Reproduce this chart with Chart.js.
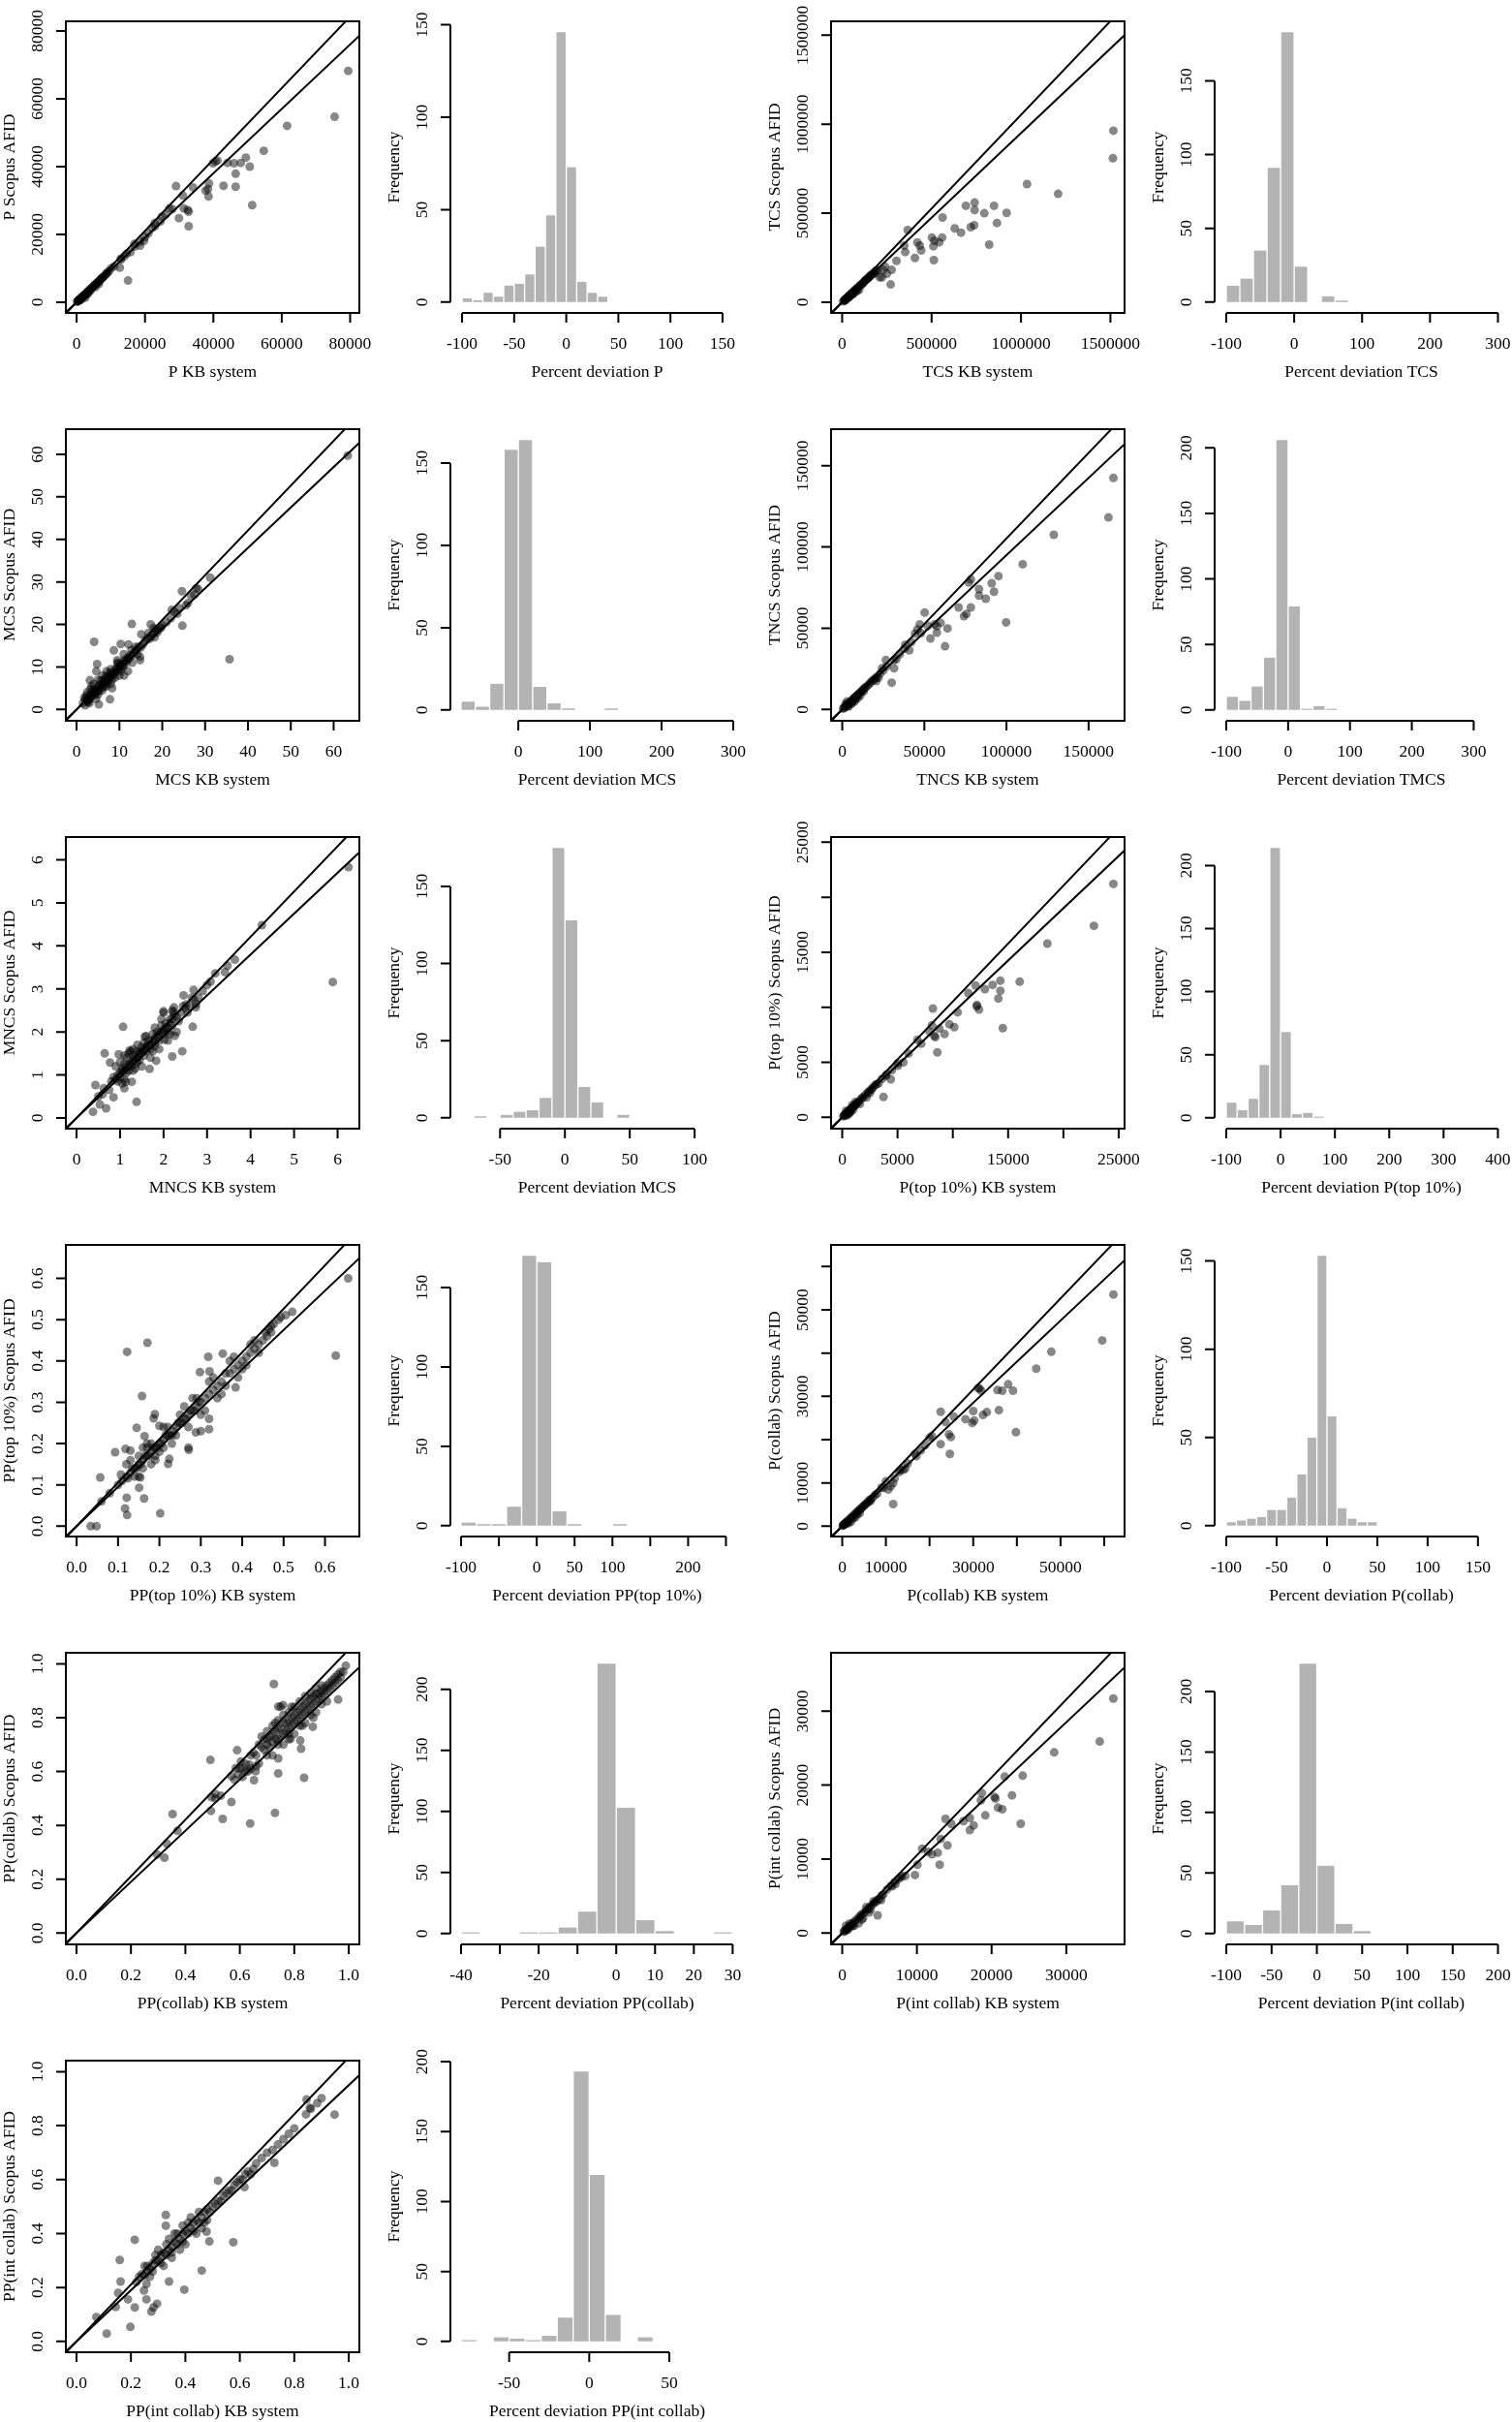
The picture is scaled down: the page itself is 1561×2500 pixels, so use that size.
<!DOCTYPE html>
<html>
<head>
<meta charset="utf-8">
<script src="https://cdn.jsdelivr.net/npm/chart.js@4.4.0/dist/chart.umd.min.js"></script>
<style>
body { margin: 0; background: #fff; width: 1561px; height: 2500px; overflow: hidden; position: relative; }
canvas { position: absolute; }
</style>
</head>
<body>
<script>
// ---- scatter data: [KB system, Scopus AFID] ----
var pPoints = [[79430,68240],[75460,54690],[61560,52010],[54750,44670],[49500,42660],[48000,41100],[46000,41000],[44100,41100],[50640,39990],[46520,37890],[46520,34070],[42980,34360],[51350,28630],[39860,41000],[41200,41800],[40600,41500],[38720,35030],[38440,33400],[37730,32930],[38580,31210],[34040,33880],[29080,34260],[31060,31500],[31350,27680],[32480,27200],[32770,26720],[32770,22430],[29930,24810],[27090,27680],[24960,25290],[22840,23380],[22130,21950],[19720,18130],[18580,16700],[16880,17180],[15740,14790],[14610,14320],[12910,12880],[12620,10210],[15040,6390],[10070,10020],
  [28000,27500],[26000,25800],[24500,23800],[23000,22500],[21000,20300],[20000,19200],[18500,17800],[17000,16400],[14000,13600],[13000,12600],[11000,10600],[9000,8700],[8000,7600],[7500,7200],[7000,6700],[6500,6100],[6000,5800],[5500,5300],[5000,4700],[4500,4300],[4000,3900],[3500,3300],[3000,2900],[2600,2400],[2200,2100],[1800,1700],[1500,1400],[1200,1100],[900,850],[700,650],[500,480],[300,280],[150,140],[2500,1300],[1200,700],[3300,2600],[5500,4500],[6500,5400],[8500,8200],
  [400,380],[600,560],[800,780],[1000,950],[1300,1250],[1600,1500],[1900,1800],[2300,2200],[2800,2600],[3200,3100],[3700,3500],[4200,4000],[4700,4500],[5200,5000],[5800,5500],[6300,6000],[6800,6500],[7300,7000],[7800,7500],[8800,8500],[9500,9200],[1000,700],[2000,1500],[3000,2300],[4000,3300]];

var tcsPoints = [[1516600,963500],[1513900,809000],[1033700,663600],[1207300,609000],[919700,501800],[849200,541800],[794900,500000],[865400,445400],[822000,323600],[740700,560000],[740700,518000],[691800,541800],[738000,432700],[719000,421800],[664700,390900],[629400,414500],[561600,476300],[558900,363600],[542600,336300],[515500,345400],[501900,363600],[510000,314500],[512800,236300],[420500,336300],[434100,318200],[442200,290900],[366300,405400],[407000,249100],[347300,318200],[352700,281800],[303900,232700],[271300,100000],[276700,181800],[230600,181800],[222500,140000],[240000,200000],[200000,180000],[185000,170000],[180000,160000],[160000,150000],[150000,140000],[140000,130000],[130000,125000],[120000,110000],[110000,100000],[100000,95000],[95000,70000],[90000,85000],[80000,75000],[75000,60000],[70000,65000],[65000,50000],[60000,55000],[55000,45000],[50000,47000],[45000,35000],[40000,38000],[35000,25000],[30000,28000],[25000,22000],[20000,19000],[15000,10000],[10000,9500],[5000,4800],[250000,160000],[210000,140000],
  [15000,14000],[25000,24000],[35000,33000],[45000,43000],[55000,52000],[65000,62000],[75000,71000],[85000,80000],[105000,98000],[115000,108000],[125000,118000],[135000,127000],[145000,136000],[155000,147000],[165000,155000],[175000,165000],[190000,178000],[20000,12000],[40000,30000],[60000,45000],[85000,65000]];

var mcsPoints = [[63.3,59.7],[35.7,11.8],[31.2,31.0],[28.4,28.3],[27.9,28.5],[26.7,26.8],[24.6,27.8],[24.7,19.7],[22.8,23.0],[22.2,23.4],[19.7,19.2],[18.8,18.1],[17.3,20.0],[18.0,19.2],[15.1,17.7],[12.9,20.1],[12.1,15.3],[10.3,15.4],[8.7,13.9],[4.1,15.9],[4.8,10.7],[4.6,9.0],[3.1,6.9],[8.3,5.0],[7.8,2.4],[5.2,1.2],[11.1,8.0],[10.9,10.1],[14.8,12.4],[14.8,11.6],[13.7,14.7],[9.5,11.6],[12.3,12.0],
  [1.5,1.5],[2.0,2.3],[2.5,2.0],[3.0,3.2],[3.5,3.0],[4.0,4.2],[4.5,4.0],[5.0,5.3],[5.5,5.0],[6.0,6.2],[6.5,5.8],[7.0,7.3],[7.5,7.0],[8.0,8.1],[8.5,8.0],[9.0,9.3],[9.5,9.0],[10.0,10.2],[10.5,9.8],[11.0,11.3],[11.5,11.0],[12.0,12.2],[13.0,12.7],[14.0,14.1],[15.0,14.6],[16.0,16.2],[17.0,16.6],[18.0,18.0],[19.0,18.6],[20.0,19.8],[21.0,20.5],[3.0,1.5],[2.5,4.0],[3.5,5.5],[4.5,2.5],[5.0,3.5],[6.0,4.5],[7.0,5.5],[6.0,8.0],[7.0,9.0],[8.0,6.0],[9.0,7.5],[10.0,8.0],[5.0,7.0],[4.0,6.0],[11.0,13.0],[13.0,11.0],[12.0,9.0],[2.0,1.0],[3.0,2.5],[6.5,7.0],[8.0,9.5],[9.5,11.0],[23.5,22.5],[25.5,24.5],[27.5,27.0],
  [2.2,2.6],[2.8,2.2],[3.3,3.6],[3.8,3.4],[4.2,4.8],[4.8,4.4],[5.3,5.8],[5.8,5.4],[6.3,6.6],[6.8,6.4],[7.3,7.8],[7.8,7.4],[8.3,8.6],[8.8,8.4],[9.3,9.7],[9.8,9.4],[10.3,10.6],[10.8,10.4],[11.3,11.7],[11.8,11.5],[12.5,12.8],[13.5,13.4],[14.5,14.8],[15.5,15.3],[16.5,16.8],[17.5,17.2],[18.5,18.8],[19.5,19.3],[3.7,4.5],[4.3,3.5],[5.7,6.8],[6.3,5.2],[7.7,8.7],[8.3,7.0],[9.7,10.8],[10.3,9.0],[2.3,3.3],[2.7,1.8],[1.8,2.8],[3.2,4.8],[6.8,7.8],[5.2,4.2],[7.2,6.2],[12.8,14.0],[14.2,13.0],[16.8,18.0],[18.2,17.0],[22.0,21.5],[24.0,23.8],[26.0,25.0]];

var tncsPoints = [[165100,142500],[162100,118200],[128800,107500],[109900,89400],[99800,53600],[95100,82100],[91000,77700],[92400,72500],[87400,68200],[83300,74100],[83300,70100],[78300,80100],[77100,78100],[78300,62800],[75600,58800],[74100,57400],[70900,62800],[64100,49900],[62600,38900],[57600,51300],[59900,53300],[56100,52300],[57600,47300],[53700,43700],[50200,59600],[47200,52300],[45800,49300],[44300,46700],[40800,36400],[38400,39900],[30100,16500],[31600,25400],[31600,30400],[26600,30400],[24200,25400],[22100,19500],[20700,17500],
  [52000,51500],[48000,47000],[42000,41500],[38000,37500],[35000,34000],[33000,31000],[27000,26500],[25000,24000],[23000,22000],[20000,19000],[18000,17500],[16000,15200],[14000,13500],[13000,11000],[12000,11500],[11000,8500],[10000,9600],[9500,7000],[9000,8400],[8000,7600],[7500,5000],[7000,6800],[6000,5600],[5500,3500],[5000,4800],[4000,3800],[4000,2000],[3000,2900],[3000,5000],[2000,1900],[2000,3500],[1000,950],[500,480],
  [1500,1400],[2500,2400],[3500,3300],[4500,4300],[5500,5200],[6500,6200],[7500,7200],[8500,8100],[9500,9100],[10500,10000],[11500,11000],[12500,12000],[13500,13000],[15000,14300],[17000,16300],[19000,18200],[21000,20000],[3500,2000],[6000,4000],[8000,6000]];

var mncsPoints = [[6.25,5.83],[5.89,3.16],[4.26,4.48],[3.64,3.68],[3.41,3.39],[3.47,3.54],[3.19,3.36],[3.0,3.09],[3.08,3.17],[2.69,2.98],[2.74,2.57],[2.67,2.12],[2.46,2.85],[2.52,2.64],[2.24,2.57],[2.22,2.47],[2.0,2.48],[2.26,1.91],[2.20,1.43],[2.43,1.55],[1.83,1.33],[1.68,1.14],[1.07,2.12],[1.38,0.375],[1.27,0.84],[1.10,0.69],[1.13,0.84],[0.647,1.50],[0.77,1.29],[0.435,0.766],[0.625,0.69],[0.535,0.315],[0.68,0.225],[0.38,0.143],[0.85,0.48],[0.97,1.48],[1.57,1.89],[2.02,1.82],[1.80,1.67],[1.46,1.52],
  [0.8,0.85],[0.9,0.9],[0.95,1.0],[1.0,1.05],[1.05,1.1],[1.1,1.1],[1.15,1.2],[1.2,1.25],[1.25,1.3],[1.3,1.35],[1.35,1.4],[1.4,1.4],[1.45,1.5],[1.5,1.55],[1.55,1.6],[1.6,1.65],[1.65,1.7],[1.7,1.7],[1.75,1.8],[1.8,1.85],[1.85,1.9],[1.9,1.95],[1.95,2.0],[2.0,2.05],[2.05,2.1],[2.1,2.1],[2.15,2.2],[2.2,2.3],[2.3,2.35],[2.4,2.45],[2.5,2.55],[2.6,2.6],[2.7,2.75],[2.8,2.8],[1.0,1.3],[1.1,0.9],[1.2,1.5],[1.3,1.1],[1.4,1.7],[1.5,1.2],[1.6,1.9],[1.7,1.4],[1.8,2.1],[1.9,1.6],[2.0,2.45],[2.1,1.8],[2.3,2.0],[2.2,2.5],[1.25,1.55],[0.9,1.2],[0.75,0.65],[1.05,0.8],[0.6,0.55],[0.5,0.5],
  [0.85,0.95],[0.95,0.85],[1.0,0.95],[1.05,1.15],[1.1,1.25],[1.15,1.05],[1.2,1.1],[1.25,1.2],[1.3,1.45],[1.35,1.25],[1.4,1.55],[1.45,1.35],[1.5,1.65],[1.55,1.45],[1.6,1.55],[1.65,1.8],[1.7,1.6],[1.75,1.95],[1.8,1.75],[1.85,2.0],[1.9,1.8],[1.95,2.15],[2.0,1.95],[2.05,2.2],[2.1,2.0],[2.15,2.3],[2.2,2.15],[2.25,2.4],[2.35,2.25],[2.45,2.6],[2.55,2.45],[2.65,2.8],[2.75,2.65],[2.9,2.95],[1.15,1.4],[1.35,1.15],[1.55,1.75],[1.75,1.55],[1.95,2.3],[2.15,1.95],[1.1,1.45],[1.22,1.57],[1.3,1.6],[1.4,1.3]];

var ptopPoints = [[24520,21210],[22760,17400],[18550,15790],[16050,12320],[14300,12410],[14300,11500],[14120,10800],[13600,12030],[12900,11650],[12060,11970],[11400,11300],[12190,10210],[12370,9800],[12150,10090],[10440,9540],[14520,8100],[10130,8190],[9250,7570],[9690,8450],[8200,9890],[8420,7280],[8330,7390],[8600,5900],[8770,8070],[8110,8360],[7890,7780],[7150,6690],[6800,7040],[5530,4990],[5040,4690],[4390,3460],[3730,1850],[3950,3760],
  [6000,5800],[5000,4900],[4500,4300],[4000,3900],[3600,3500],[3300,3100],[3000,2950],[2700,2600],[2500,2200],[2400,2350],[2200,1800],[2100,2050],[1800,1750],[1600,1200],[1500,1450],[1300,1250],[1200,1400],[1100,1050],[1000,700],[900,870],[900,1100],[800,550],[700,680],[600,300],[500,490],[400,150],[350,600],[300,290],[200,195],[100,95],
  [150,145],[250,245],[350,340],[450,440],[550,530],[650,630],[750,730],[850,820],[950,920],[1050,1000],[1150,1100],[1250,1200],[1400,1350],[1700,1650],[1900,1850],[2300,2250],[2600,2500],[2800,2750],[3100,3000],[500,300],[700,450]];

var pptopPoints = [[0.656,0.600],[0.626,0.413],[0.171,0.444],[0.122,0.422],[0.158,0.315],[0.189,0.271],[0.186,0.261],[0.200,0.243],[0.145,0.238],[0.164,0.218],[0.093,0.179],[0.118,0.187],[0.130,0.183],[0.057,0.118],[0.107,0.125],[0.124,0.116],[0.154,0.118],[0.151,0.093],[0.121,0.069],[0.163,0.067],[0.117,0.043],[0.122,0.027],[0.202,0.031],[0.034,0.0],[0.048,0.0],[0.353,0.418],[0.318,0.410],[0.321,0.375],[0.298,0.373],[0.384,0.336],[0.320,0.235],[0.288,0.227],[0.271,0.185],[0.224,0.163],[0.221,0.151],
  [0.521,0.519],[0.505,0.511],[0.493,0.506],[0.488,0.500],[0.476,0.489],[0.470,0.485],[0.464,0.477],[0.456,0.469],
  [0.44,0.44],[0.42,0.42],[0.40,0.40],[0.38,0.38],[0.36,0.37],[0.34,0.34],[0.32,0.32],[0.30,0.30],[0.29,0.29],[0.28,0.28],[0.27,0.27],[0.26,0.26],[0.25,0.25],[0.24,0.24],[0.23,0.22],[0.22,0.22],[0.21,0.21],[0.20,0.20],[0.19,0.19],[0.18,0.18],[0.17,0.17],[0.16,0.16],[0.15,0.15],[0.14,0.14],[0.13,0.13],[0.12,0.12],[0.11,0.11],[0.10,0.10],[0.08,0.08],[0.06,0.06],[0.35,0.32],[0.33,0.36],[0.31,0.28],[0.29,0.31],[0.27,0.24],[0.25,0.27],[0.23,0.20],[0.21,0.24],[0.19,0.16],[0.17,0.20],[0.15,0.12],[0.13,0.16],[0.37,0.40],[0.41,0.39],[0.43,0.45],[0.39,0.36],[0.26,0.29],[0.27,0.19],[0.32,0.26],[0.30,0.23],
  [0.45,0.45],[0.43,0.43],[0.41,0.41],[0.39,0.39],[0.37,0.37],[0.35,0.35],[0.33,0.33],[0.31,0.31],[0.295,0.30],[0.285,0.28],[0.275,0.28],[0.265,0.26],[0.255,0.25],[0.245,0.25],[0.235,0.23],[0.225,0.22],[0.215,0.22],[0.205,0.20],[0.195,0.19],[0.185,0.19],[0.175,0.17],[0.165,0.17],[0.155,0.15],[0.145,0.14],[0.135,0.14],[0.18,0.20],[0.17,0.19],[0.19,0.17],[0.20,0.18],[0.16,0.14],[0.15,0.17],[0.14,0.12],[0.12,0.15],[0.21,0.19],[0.22,0.24],[0.24,0.22],[0.28,0.31],[0.30,0.27],[0.32,0.35],[0.34,0.31],[0.36,0.34],[0.38,0.41],[0.40,0.38],[0.42,0.44],[0.44,0.42],[0.46,0.46],[0.47,0.47],[0.18,0.15],[0.16,0.19]];

var pcolPoints = [[62110,53550],[59550,42920],[47890,40300],[44440,36400],[38000,32800],[39110,31310],[36660,31310],[35550,31460],[31440,31830],[31780,31310],[31110,31900],[39780,21720],[35890,26810],[33110,26360],[32220,25690],[30000,26590],[29780,23820],[30220,24420],[28220,24720],[25550,25320],[22550,26440],[23660,24040],[24440,21200],[24890,20600],[22550,18950],[24660,16700],[20550,20820],[20000,20450],[16670,16700],[14440,13330],[13330,12960],[11670,9960],[10000,10340],[9440,8840],[11110,9210],[10550,8460],[11670,5090],
  [19000,18700],[18000,17500],[17000,16200],[15000,14500],[14000,13000],[13000,12500],[12000,11000],[9000,8900],[8000,7500],[7500,7200],[7000,6600],[6500,6200],[6500,5800],[6000,5600],[5500,5200],[5000,4700],[4500,4200],[4000,3800],[4000,3000],[3500,3300],[3000,2800],[3000,2000],[2500,2300],[2000,1900],[2000,1000],[1500,1400],[1500,700],[1000,950],[700,650],[400,380],[200,190],[100,90],
  [300,290],[500,480],[800,770],[1200,1150],[1700,1650],[2200,2100],[2700,2600],[3200,3050],[3700,3550],[4200,4000],[4700,4500],[5200,5000],[5700,5400],[6200,6000],[800,500],[1200,800],[2500,1800],[3500,2700]];

var ppcolPoints = [[0.989,0.993],[0.961,0.867],[0.725,0.925],[0.836,0.577],[0.825,0.685],[0.868,0.766],[0.822,0.715],[0.741,0.841],[0.759,0.847],[0.590,0.679],[0.492,0.643],[0.658,0.601],[0.635,0.625],[0.604,0.637],[0.585,0.613],[0.652,0.568],[0.741,0.593],[0.569,0.583],[0.594,0.589],[0.608,0.613],[0.569,0.487],[0.729,0.446],[0.638,0.407],[0.537,0.424],[0.494,0.454],[0.510,0.517],[0.496,0.505],[0.353,0.442],[0.371,0.380],[0.332,0.332],[0.323,0.280],[0.296,0.292],[0.741,0.649],[0.786,0.721],
  [0.66,0.66],[0.68,0.69],[0.70,0.70],[0.71,0.73],[0.72,0.71],[0.73,0.75],[0.74,0.72],[0.75,0.76],[0.76,0.74],[0.77,0.78],[0.78,0.76],[0.79,0.80],[0.80,0.78],[0.81,0.82],[0.82,0.80],[0.83,0.84],[0.84,0.82],[0.85,0.86],[0.86,0.84],[0.87,0.88],[0.88,0.86],[0.89,0.89],[0.90,0.88],[0.91,0.91],[0.92,0.90],[0.93,0.93],[0.94,0.92],[0.95,0.95],[0.96,0.94],[0.97,0.97],[0.70,0.75],[0.72,0.66],[0.74,0.79],[0.76,0.70],[0.78,0.82],[0.80,0.74],[0.82,0.86],[0.84,0.78],[0.86,0.89],[0.88,0.82],[0.90,0.92],[0.92,0.86],[0.75,0.84],[0.79,0.84],[0.73,0.78],[0.78,0.72],[0.83,0.77],[0.87,0.80],[0.69,0.72],[0.67,0.63],[0.64,0.66],[0.62,0.63],[0.60,0.61],[0.58,0.57],[0.63,0.60],[0.53,0.51],[0.51,0.50],
  [0.65,0.67],[0.67,0.70],[0.69,0.68],[0.70,0.72],[0.71,0.69],[0.72,0.74],[0.73,0.72],[0.74,0.76],[0.75,0.73],[0.76,0.78],[0.77,0.75],[0.78,0.79],[0.79,0.77],[0.80,0.81],[0.81,0.79],[0.82,0.83],[0.83,0.81],[0.84,0.85],[0.85,0.83],[0.86,0.87],[0.87,0.85],[0.88,0.89],[0.89,0.87],[0.90,0.90],[0.91,0.89],[0.92,0.92],[0.93,0.91],[0.94,0.94],[0.95,0.93],[0.96,0.96],[0.97,0.95],[0.98,0.97],[0.72,0.77],[0.74,0.70],[0.76,0.81],[0.78,0.74],[0.80,0.84],[0.82,0.77],[0.84,0.88],[0.86,0.81],[0.88,0.91],[0.90,0.85],[0.68,0.73],[0.70,0.66],[0.66,0.62],[0.64,0.61],[0.62,0.60],[0.61,0.58]];

var pintPoints = [[36300,31700],[34480,25900],[28380,24420],[24160,21280],[21750,21150],[23900,14780],[22730,18620],[21430,16740],[20850,16960],[20520,18180],[20390,18400],[19160,15910],[18570,17960],[18700,18920],[17600,14560],[17080,13910],[17080,15570],[16240,15130],[14610,14740],[14090,11860],[13830,15430],[13180,12730],[13050,9240],[12790,10860],[12010,10640],[11490,10990],[10070,9240],[9740,7850],[10710,11420],[8440,7720],[7790,7500],[7140,6630],[6690,6320],[4740,2400],[5200,4450],
  [8000,7700],[7500,7300],[7000,6900],[6500,6400],[6000,5900],[5500,5200],[5000,4600],[4500,4200],[4200,4300],[4000,3800],[3800,3200],[3500,3300],[3200,3500],[3000,2800],[2800,2000],[2500,2400],[2200,1300],[2000,1900],[1600,1000],[1500,1400],[1200,900],[1000,950],[1000,1300],[800,500],[700,650],[500,1000],[400,380],[200,180],
  [300,290],[600,580],[900,870],[1300,1250],[1700,1650],[2300,2200],[2700,2600],[3300,3150],[3700,3550],[4300,4100],[4700,4500],[5300,5100],[600,400],[1400,1000],[2600,1800],[3600,2800]];

var ppintPoints = [[0.948,0.841],[0.900,0.902],[0.884,0.883],[0.861,0.862],[0.843,0.842],[0.845,0.897],[0.857,0.866],[0.727,0.662],[0.617,0.572],[0.576,0.368],[0.520,0.596],[0.488,0.371],[0.478,0.407],[0.460,0.263],[0.396,0.192],[0.340,0.222],[0.328,0.429],[0.328,0.469],[0.296,0.140],[0.283,0.126],[0.275,0.111],[0.257,0.156],[0.248,0.189],[0.257,0.213],[0.214,0.377],[0.198,0.054],[0.214,0.126],[0.189,0.156],[0.159,0.302],[0.111,0.029],[0.162,0.222],[0.153,0.180],[0.144,0.128],[0.073,0.090],
  [0.22,0.22],[0.24,0.25],[0.26,0.26],[0.28,0.29],[0.30,0.30],[0.32,0.33],[0.34,0.34],[0.36,0.37],[0.38,0.38],[0.40,0.41],[0.42,0.42],[0.44,0.45],[0.46,0.46],[0.48,0.49],[0.50,0.50],[0.52,0.52],[0.54,0.54],[0.56,0.56],[0.58,0.58],[0.60,0.60],[0.62,0.62],[0.65,0.64],[0.68,0.68],[0.72,0.71],[0.76,0.75],[0.78,0.77],[0.80,0.79],[0.34,0.38],[0.38,0.34],[0.42,0.46],[0.46,0.42],[0.40,0.36],[0.36,0.40],[0.30,0.34],[0.32,0.28],[0.44,0.40],[0.48,0.45],[0.27,0.24],[0.25,0.28],[0.35,0.31],[0.39,0.43],
  [0.23,0.24],[0.25,0.245],[0.27,0.27],[0.29,0.30],[0.31,0.32],[0.33,0.32],[0.35,0.35],[0.37,0.36],[0.39,0.40],[0.41,0.40],[0.43,0.44],[0.45,0.44],[0.47,0.48],[0.49,0.48],[0.51,0.51],[0.53,0.52],[0.55,0.55],[0.57,0.56],[0.59,0.59],[0.61,0.60],[0.63,0.63],[0.64,0.62],[0.66,0.66],[0.70,0.70],[0.74,0.73],[0.33,0.36],[0.35,0.33],[0.37,0.40],[0.39,0.37],[0.41,0.44],[0.43,0.41],[0.45,0.48],[0.47,0.44],[0.31,0.29],[0.29,0.32],[0.28,0.26],[0.26,0.28]];

// reference lines y = slope * x
var refSlopes = [1 / 0.95, 0.95];

// ---- histogram counts (first bin start, bin width, counts) ----
var pDevCounts = [2,1,5,3,9,10,15,30,47,146,73,11,5,3];
var tcsDevCounts = [11,16,35,91,183,24,0,4,1];
var mcsDevCounts = [5,2,16,158,164,14,4,1,0,0,1];
var tncsDevCounts = [10,7,18,40,206,79,1,3,1];
var mncsDevCounts = [1,0,2,4,5,13,175,128,20,10,0,2];
var ptopDevCounts = [12,6,15,42,214,68,3,4,1];
var pptopDevCounts = [2,1,1,12,170,166,9,1,0,0,1];
var pcolDevCounts = [2,3,4,5,9,9,16,29,50,153,62,10,4,2,2];
var ppcolDevCounts = [1,0,0,1,1,5,18,221,103,11,2,0,0,1];
var pintDevCounts = [10,7,19,40,223,56,8,2];
var ppintDevCounts = [1,0,3,2,1,4,17,193,119,19,0,3];

// ---- tick values and labels ----
var pTicks = [0,20000,40000,60000,80000];
var tcsTicks = [0,500000,1000000,1500000];
var mcsTicks = [0,10,20,30,40,50,60];
var tncsTicks = [0,50000,100000,150000];
var mncsTicks = [0,1,2,3,4,5,6];
var ptopTicks = [0,5000,10000,15000,20000,25000];
var ptopLabels = ['0','5000','','15000','','25000'];
var pptopTicks = [0,0.1,0.2,0.3,0.4,0.5,0.6];
var pptopLabels = ['0.0','0.1','0.2','0.3','0.4','0.5','0.6'];
var pcolTicks = [0,10000,20000,30000,40000,50000,60000];
var pcolLabels = ['0','10000','','30000','','50000',''];
var unitTicks = [0,0.2,0.4,0.6,0.8,1.0];
var unitLabels = ['0.0','0.2','0.4','0.6','0.8','1.0'];
var pintTicks = [0,10000,20000,30000];
var freq150 = [0,50,100,150];
var freq200 = [0,50,100,150,200];

var panels = [
  {kind:'scatter', row:0, col:0, points:pPoints, xLim:[-3150,82700], yLim:[-3150,82850], xTicks:pTicks, yTicks:pTicks, xTitle:'P KB system', yTitle:'P Scopus AFID'},
  {kind:'hist', row:0, col:1, from:-100, width:10, counts:pDevCounts, xLim:[-111.2,170.5], xTicks:[-100,-50,0,50,100,150], yTicks:freq150, xTitle:'Percent deviation P'},
  {kind:'scatter', row:0, col:2, points:tcsPoints, xLim:[-62000,1579000], yLim:[-60000,1578000], xTicks:tcsTicks, yTicks:tcsTicks, xTitle:'TCS KB system', yTitle:'TCS Scopus AFID'},
  {kind:'hist', row:0, col:3, from:-100, width:20, counts:tcsDevCounts, xLim:[-117.1,315], xTicks:[-100,0,100,200,300], yTicks:freq150, xTitle:'Percent deviation TCS'},

  {kind:'scatter', row:1, col:0, points:mcsPoints, xLim:[-2.5,66.0], yLim:[-2.65,65.9], xTicks:mcsTicks, yTicks:mcsTicks, xTitle:'MCS KB system', yTitle:'MCS Scopus AFID'},
  {kind:'hist', row:1, col:1, from:-80, width:20, counts:mcsDevCounts, xLim:[-94.8,314.9], xTicks:[0,100,200,300], yTicks:freq150, xTitle:'Percent deviation MCS'},
  {kind:'scatter', row:1, col:2, points:tncsPoints, xLim:[-6800,171900], yLim:[-6950,172500], xTicks:tncsTicks, yTicks:tncsTicks, xTitle:'TNCS KB system', yTitle:'TNCS Scopus AFID'},
  {kind:'hist', row:1, col:3, from:-100, width:20, counts:tncsDevCounts, xLim:[-118.8,355.7], xTicks:[-100,0,100,200,300], yTicks:freq200, xTitle:'Percent deviation TMCS'},

  {kind:'scatter', row:2, col:0, points:mncsPoints, xLim:[-0.245,6.50], yLim:[-0.248,6.53], xTicks:mncsTicks, yTicks:mncsTicks, xTitle:'MNCS KB system', yTitle:'MNCS Scopus AFID'},
  {kind:'hist', row:2, col:1, from:-70, width:10, counts:mncsDevCounts, xLim:[-88.3,138], xTicks:[-50,0,50,100], yTicks:freq150, xTitle:'Percent deviation MCS'},
  {kind:'scatter', row:2, col:2, points:ptopPoints, xLim:[-1010,25530], yLim:[-1030,25470], xTicks:ptopTicks, yTicks:ptopTicks, xLabels:ptopLabels, yLabels:ptopLabels, xTitle:'P(top 10%) KB system', yTitle:'P(top 10%) Scopus AFID'},
  {kind:'hist', row:2, col:3, from:-100, width:20, counts:ptopDevCounts, xLim:[-121.4,418.8], xTicks:[-100,0,100,200,300,400], yTicks:freq200, xTitle:'Percent deviation P(top 10%)'},

  {kind:'scatter', row:3, col:0, points:pptopPoints, xLim:[-0.026,0.683], yLim:[-0.025,0.681], xTicks:pptopTicks, yTicks:pptopTicks, xLabels:pptopLabels, yLabels:pptopLabels, xTitle:'PP(top 10%) KB system', yTitle:'PP(top 10%) Scopus AFID'},
  {kind:'hist', row:3, col:1, from:-100, width:20, counts:pptopDevCounts, xLim:[-114.1,273.7], xTicks:[-100,-50,0,50,100,150,200,250], xLabels:['-100','','0','50','100','','200',''], yTicks:freq150, xTitle:'Percent deviation PP(top 10%)'},
  {kind:'scatter', row:3, col:2, points:pcolPoints, xLim:[-2555,64660], yLim:[-2400,65010], xTicks:pcolTicks, yTicks:pcolTicks, xLabels:pcolLabels, yLabels:pcolLabels, xTitle:'P(collab) KB system', yTitle:'P(collab) Scopus AFID'},
  {kind:'hist', row:3, col:3, from:-100, width:10, counts:pcolDevCounts, xLim:[-111.6,180], xTicks:[-100,-50,0,50,100,150], yTicks:freq150, xTitle:'Percent deviation P(collab)'},

  {kind:'scatter', row:4, col:0, points:ppcolPoints, xLim:[-0.039,1.039], yLim:[-0.042,1.041], xTicks:unitTicks, yTicks:unitTicks, xLabels:unitLabels, yLabels:unitLabels, xTitle:'PP(collab) KB system', yTitle:'PP(collab) Scopus AFID'},
  {kind:'hist', row:4, col:1, from:-40, width:5, counts:ppcolDevCounts, xLim:[-42.75,32.9], xTicks:[-40,-30,-20,-10,0,10,20,30], xLabels:['-40','','-20','','0','10','20','30'], yTicks:freq200, xTitle:'Percent deviation PP(collab)'},
  {kind:'scatter', row:4, col:2, points:pintPoints, xLim:[-1494,37800], yLim:[-1526,37890], xTicks:pintTicks, yTicks:pintTicks, xTitle:'P(int collab) KB system', yTitle:'P(int collab) Scopus AFID'},
  {kind:'hist', row:4, col:3, from:-100, width:20, counts:pintDevCounts, xLim:[-112.9,211.2], xTicks:[-100,-50,0,50,100,150,200], yTicks:freq200, xTitle:'Percent deviation P(int collab)'},

  {kind:'scatter', row:5, col:0, points:ppintPoints, xLim:[-0.039,1.039], yLim:[-0.040,1.041], xTicks:unitTicks, yTicks:unitTicks, xLabels:unitLabels, yLabels:unitLabels, xTitle:'PP(int collab) KB system', yTitle:'PP(int collab) Scopus AFID'},
  {kind:'hist', row:5, col:1, from:-80, width:10, counts:ppintDevCounts, xLim:[-86.7,96.6], xTicks:[-50,0,50], yTicks:freq200, xTitle:'Percent deviation PP(int collab)'}
];

// layout of the plot regions on the page
var PAD_L = 72, PAD_R = 22, PAD_T = 20, PAD_B = 80;
var PLOT_W = 303, PLOT_H = 301;
var colLeft = [68, 465, 858, 1254];
var rowTop = [22, 443, 864, 1285, 1706, 2127];
var FONT = '17.5px "Liberation Serif", "Times New Roman", serif';

// base-graphics style axes: box, outward ticks, rotated y labels
function rAxesPlugin(p){
    return {
        id: 'rAxes',
        afterDatasetsDraw: function(chart){
            var ctx = chart.ctx;
            var area = chart.chartArea;
            var xs = chart.scales.x, ys = chart.scales.y;
            var xp = p.xTicks.map(function(v){ return xs.getPixelForValue(v); });
            var yp = p.yTicks.map(function(v){ return ys.getPixelForValue(v); });
            var xl = p.xLabels || p.xTicks.map(String);
            var yl = p.yLabels || p.yTicks.map(String);

            ctx.save();
            ctx.strokeStyle = '#000';
            ctx.fillStyle = '#000';
            ctx.lineWidth = 2;
            ctx.beginPath();
            if(p.kind == 'scatter'){
                ctx.rect(area.left, area.top, area.right - area.left, area.bottom - area.top);
            }
            ctx.moveTo(xp[0], area.bottom);
            ctx.lineTo(xp[xp.length - 1], area.bottom);
            ctx.moveTo(area.left, yp[0]);
            ctx.lineTo(area.left, yp[yp.length - 1]);
            xp.forEach(function(x){ ctx.moveTo(x, area.bottom); ctx.lineTo(x, area.bottom + 10); });
            yp.forEach(function(y){ ctx.moveTo(area.left, y); ctx.lineTo(area.left - 10, y); });
            ctx.stroke();

            ctx.font = FONT;
            ctx.textAlign = 'center';
            ctx.textBaseline = 'middle';
            xp.forEach(function(x, i){
                if(xl[i]) ctx.fillText(xl[i], x, area.bottom + 32);
            });
            ctx.fillText(p.xTitle, (area.left + area.right) / 2, area.bottom + 61);

            yp.forEach(function(y, i){
                if(!yl[i]) return;
                ctx.save();
                ctx.translate(area.left - 29, y);
                ctx.rotate(-Math.PI / 2);
                ctx.fillText(yl[i], 0, 0);
                ctx.restore();
            });
            ctx.save();
            ctx.translate(area.left - 58, (area.top + area.bottom) / 2);
            ctx.rotate(-Math.PI / 2);
            ctx.fillText(p.yTitle || 'Frequency', 0, 0);
            ctx.restore();
            ctx.restore();
        }
    };
}

function baseOptions(){
    return {
        responsive: false,
        animation: false,
        devicePixelRatio: 1,
        events: [],
        layout: { padding: { left: PAD_L, right: PAD_R, top: PAD_T, bottom: PAD_B } },
        plugins: { legend: { display: false }, tooltip: { enabled: false } }
    };
}

function refLine(p, slope){
    return {
        data: [{x: p.xLim[0], y: slope * p.xLim[0]}, {x: p.xLim[1], y: slope * p.xLim[1]}],
        showLine: true,
        borderColor: '#000',
        borderWidth: 2,
        pointRadius: 0,
        clip: 0
    };
}

function scatterConfig(p){
    var opts = baseOptions();
    opts.scales = {
        x: { type: 'linear', display: false, min: p.xLim[0], max: p.xLim[1] },
        y: { type: 'linear', display: false, min: p.yLim[0], max: p.yLim[1] }
    };
    return {
        type: 'scatter',
        data: {
            datasets: [
                refLine(p, refSlopes[0]),
                refLine(p, refSlopes[1]),
                {
                    data: p.points.map(function(d){ return {x: d[0], y: d[1]}; }),
                    pointRadius: 4.5,
                    pointBackgroundColor: 'rgba(0,0,0,0.47)',
                    pointBorderWidth: 0,
                    clip: 0
                }
            ]
        },
        options: opts,
        plugins: [rAxesPlugin(p)]
    };
}

function histConfig(p){
    var top = Math.max.apply(null, p.counts);
    var opts = baseOptions();
    opts.scales = {
        x: {
            type: 'linear', display: false, offset: false,
            min: p.xLim[0], max: p.xLim[1],
            afterBuildTicks: function(scale){
                scale.ticks = p.xTicks.map(function(v){ return {value: v}; });
            }
        },
        y: { type: 'linear', display: false, min: -0.04 * top, max: 1.04 * top }
    };
    return {
        type: 'bar',
        data: {
            datasets: [{
                data: p.counts.map(function(c, i){ return {x: p.from + p.width * (i + 0.5), y: c}; }),
                backgroundColor: '#b3b3b3',
                borderColor: '#ffffff',
                borderWidth: {left: 1, right: 1, top: 0, bottom: 0},
                borderSkipped: false,
                barPercentage: 1,
                categoryPercentage: 1
            }]
        },
        options: opts,
        plugins: [rAxesPlugin(p)]
    };
}

panels.forEach(function(p){
    var canvas = document.createElement('canvas');
    canvas.width = PAD_L + PLOT_W + PAD_R;
    canvas.height = PAD_T + PLOT_H + PAD_B;
    canvas.style.width = canvas.width + 'px';
    canvas.style.height = canvas.height + 'px';
    canvas.style.left = (colLeft[p.col] - PAD_L) + 'px';
    canvas.style.top = (rowTop[p.row] - PAD_T) + 'px';
    document.body.appendChild(canvas);
    var cfg = p.kind == 'scatter' ? scatterConfig(p) : histConfig(p);
    new Chart(canvas.getContext('2d'), cfg);
});
</script>
</body>
</html>
